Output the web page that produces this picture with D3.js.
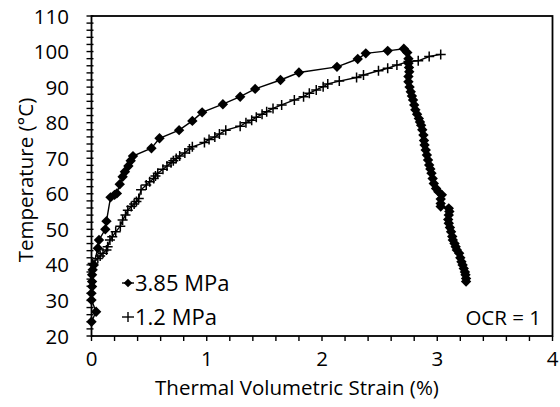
<!DOCTYPE html>
<html><head><meta charset="utf-8">
<script src="https://cdn.jsdelivr.net/npm/d3@7/dist/d3.min.js"></script>
<style>body{margin:0;background:#fff}svg{display:block}text{font-family:"Open Sans",sans-serif;fill:#000}</style>
</head><body><svg id="c" width="560" height="407"></svg>
<script>
// 3.85 MPa series: thermal volumetric strain (%) and temperature (°C)
const s1Strain = [0,0.04,0,0,0.005,0.005,0.005,0.01,0.02,0.055,0.065,0.12,0.13,0.165,0.2,0.22,0.245,0.27,0.29,0.32,0.34,0.36,0.52,0.59,0.76,0.875,0.96,1.14,1.29,1.42,1.64,1.80,2.13,2.31,2.38,2.57,2.71,
  2.74,2.75,2.75,2.755,2.757,2.75,2.75,2.76,2.77,2.78,2.79,2.80,2.81,2.825,2.84,2.85,2.86,2.87,2.88,2.885,2.89,2.90,2.91,2.92,2.93,2.94,2.95,2.96,2.97,2.99,3.01,3.04,3.03,3.03,3.03,3.10,3.105,3.10,3.095,3.10,3.11,3.12,3.13,3.135,3.15,3.16,3.17,3.19,3.20,3.21,3.22,3.23,3.24,3.245,3.25,3.25];
const s1Temp = [24,26.8,30.1,32,33.9,35.3,37.2,38.6,40,44.7,47,50,52.3,59,59.7,60.1,62.7,64.8,66.2,67.8,69.3,70.6,72.8,75.6,77.9,80.5,82.9,85.2,87.3,89.5,92,94.1,95.7,97.9,99.5,100.2,100.8,
  99.7,98,96.7,95.5,94.3,93,91.5,90,88.7,87.5,86.4,85,83.6,82.4,81.2,80.2,79.3,78,76.5,75,73.7,72.3,70.9,69.5,68.1,67,65.8,64.3,62.9,61.5,60.6,59.7,58.5,57.3,56.4,55.9,55,54,52.8,51.7,50.5,49.3,48,47,46,45.1,44.2,43.3,42,40.9,40,39,38,37.2,36.2,35.3];
// 1.2 MPa series
const s2Strain = [0.01,0.055,0.075,0.1,0.13,0.14,0.16,0.18,0.21,0.25,0.27,0.295,0.315,0.345,0.37,0.39,0.41,0.43,0.475,0.505,0.54,0.555,0.575,0.62,0.655,0.69,0.71,0.735,0.765,0.81,0.85,0.875,0.98,1.02,1.07,1.11,1.165,1.29,1.34,1.39,1.43,1.48,1.52,1.575,1.65,1.76,1.84,1.89,1.95,2.01,2.05,2.15,2.30,2.36,2.49,2.57,2.65,2.75,2.835,2.93,3.03];
const s2Temp = [40.4,41.8,42.5,43.3,44.2,45.1,47,47.9,49.3,50.9,52.6,54,55.4,56.4,57.1,57.8,58.7,61.1,62.5,63.4,64.3,65,65.8,66.9,67.8,68.7,69.3,69.9,70.6,71.5,72.6,73.2,74.4,75.3,76,76.8,77.9,79,80,80.7,81.5,82.4,83.1,84,85,86.4,87.3,88.3,89.2,90.1,90.9,91.7,92.7,93.4,94.6,95.3,96.2,97.2,97.4,98.6,99.2];
const xTicks = [0,1,2,3,4];
const yTicks = [20,30,40,50,60,70,80,90,100,110];
const seriesNames = ["3.85 MPa","1.2 MPa"];
const xTitle = "Thermal Volumetric Strain (%)";
const yTitle = "Temperature (°C)";
const note = "OCR = 1";

const svg = d3.select("#c");
const L = 91.5, R = 552.5, T = 16, B = 336;
const x = d3.scaleLinear().domain([0,4]).range([L,R]);
const y = d3.scaleLinear().domain([20,110]).range([B,T]);

// minor ticks
const xMinor = d3.range(0,4.0001,0.2);
const yMinor = d3.range(20,110.001,2);
svg.append("g").selectAll("line").data(xMinor).join("line")
  .attr("x1",d=>x(d)).attr("x2",d=>x(d)).attr("y1",B).attr("y2",B+5)
  .attr("stroke","#000").attr("stroke-width",1.4);
svg.append("g").selectAll("line").data(yMinor).join("line")
  .attr("y1",d=>y(d)).attr("y2",d=>y(d)).attr("x1",L-5).attr("x2",L+2)
  .attr("stroke","#000").attr("stroke-width",1.4);
// frame
svg.append("rect").attr("x",L).attr("y",T).attr("width",R-L).attr("height",B-T)
  .attr("fill","none").attr("stroke","#000").attr("stroke-width",1.8);

// tick labels
const fs = 20.5;
svg.append("g").selectAll("text").data(xTicks).join("text")
  .attr("x",d=>x(d)).attr("y",366).attr("text-anchor","middle").attr("font-size",fs).text(d=>d);
svg.append("g").selectAll("text").data(yTicks).join("text")
  .attr("x",69).attr("y",d=>y(d)+7.5).attr("text-anchor","end").attr("font-size",fs).text(d=>d);
svg.append("text").attr("x",297).attr("y",395).attr("text-anchor","middle").attr("font-size",fs).text(xTitle);
svg.append("text").attr("transform","translate(33,180) rotate(-90)").attr("text-anchor","middle").attr("font-size",fs).text(yTitle);

const line = d3.line().x(d=>x(d[0])).y(d=>y(d[1]));
const d1 = s1Strain.map((v,i)=>[v,s1Temp[i]]);
const d2 = s2Strain.map((v,i)=>[v,s2Temp[i]]);
const diamond = "M0,-5.2L5.2,0L0,5.2L-5.2,0Z";
const plus = "M-5,0H5M0,-5V5";

svg.append("path").datum(d2).attr("d",line).attr("fill","none").attr("stroke","#000").attr("stroke-width",1.4);
svg.append("g").selectAll("path").data(d2).join("path")
  .attr("transform",d=>`translate(${x(d[0])},${y(d[1])})`).attr("d",plus)
  .attr("stroke","#000").attr("stroke-width",1.5).attr("fill","none");
svg.append("path").datum(d1).attr("d",line).attr("fill","none").attr("stroke","#000").attr("stroke-width",1.4);
svg.append("g").selectAll("path").data(d1).join("path")
  .attr("transform",d=>`translate(${x(d[0])},${y(d[1])})`).attr("d",diamond).attr("fill","#000");

// legend
const lg = svg.append("g");
const lfs = 22;
[0,1].forEach(i=>{
  const ly = 283 + i*34;
  lg.append("line").attr("x1",122).attr("x2",134).attr("y1",ly).attr("y2",ly).attr("stroke","#000").attr("stroke-width",1.4);
  if(i===0) lg.append("path").attr("transform",`translate(128,${ly})`).attr("d","M0,-4.3L4.3,0L0,4.3L-4.3,0Z").attr("fill","#000");
  else lg.append("path").attr("transform",`translate(128,${ly})`).attr("d","M0,-5V5").attr("stroke","#000").attr("stroke-width",1.4);
  lg.append("text").attr("x",135).attr("y",ly+8).attr("font-size",lfs).text(seriesNames[i]);
});
svg.append("text").attr("x",541).attr("y",325).attr("text-anchor","end").attr("font-size",fs).text(note);
</script></body></html>
